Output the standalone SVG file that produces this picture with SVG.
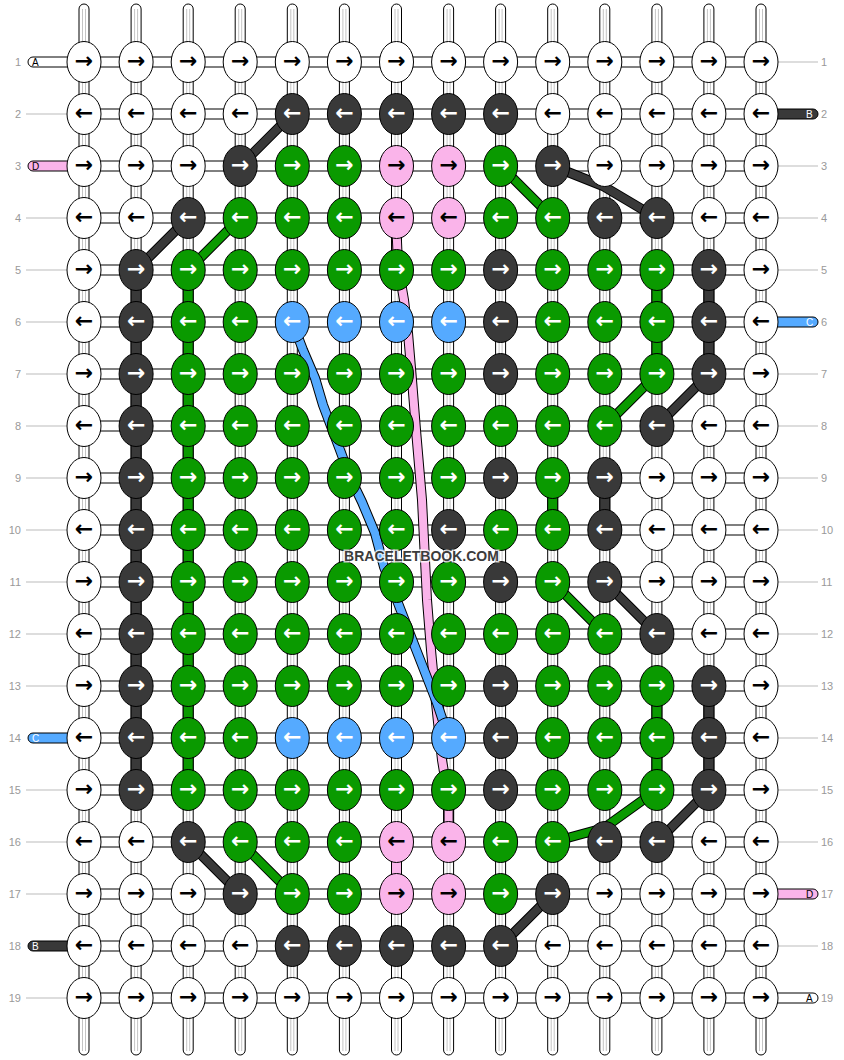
<svg xmlns="http://www.w3.org/2000/svg" width="844" height="1060" viewBox="0 0 844 1060">
<style>
.tube{fill:#fff;stroke:#000;stroke-width:1}
.inner{fill:none;stroke:#c4c4c4;stroke-width:1}
.band{fill:#fff;stroke:#000;stroke-width:1}
.num{font-family:"Liberation Sans",Arial,sans-serif;font-size:11px;fill:#999}
.numr{font-family:"Liberation Sans",Arial,sans-serif;font-size:11px;fill:#999}
.gl{stroke:#bbb;stroke-width:1}
.end{stroke:#000;stroke-width:1}
.lbl{font-family:"Liberation Sans",Arial,sans-serif;font-size:10px}
.k{stroke:#000;stroke-width:1}
.W{fill:#fff}.K{fill:#393939}.G{fill:#0a9a00}.P{fill:#fab4ea}.C{fill:#55aaff}
.a{font-family:"DejaVu Sans",sans-serif;font-size:22px;font-weight:bold;text-anchor:middle;transform:translateY(1.5px)}
.ab{fill:#000}.aw{fill:#fff}
.ol{fill:none;stroke:#000;stroke-width:10;stroke-linejoin:round;stroke-linecap:butt}
.ln{fill:none;stroke-width:8;stroke-linejoin:round;stroke-linecap:butt}
.sK{stroke:#393939}.sG{stroke:#0a9a00}.sP{stroke:#fab4ea}.sC{stroke:#55aaff}
.cc{stroke:#000;stroke-width:1}
.wm{font-family:"Liberation Sans",Arial,sans-serif;font-size:14px;font-weight:bold;fill:#3c3c3c;stroke:rgba(255,255,255,0.75);stroke-width:3px;paint-order:stroke;text-anchor:middle}
</style>
<g id="labels">
<text class="num" x="21" y="66" text-anchor="end">1</text><text class="num" x="21" y="118" text-anchor="end">2</text><text class="num" x="21" y="170" text-anchor="end">3</text><text class="num" x="21" y="222" text-anchor="end">4</text><text class="num" x="21" y="274" text-anchor="end">5</text><text class="num" x="21" y="326" text-anchor="end">6</text><text class="num" x="21" y="378" text-anchor="end">7</text><text class="num" x="21" y="430" text-anchor="end">8</text><text class="num" x="21" y="482" text-anchor="end">9</text><text class="num" x="21" y="534" text-anchor="end">10</text><text class="num" x="21" y="586" text-anchor="end">11</text><text class="num" x="21" y="638" text-anchor="end">12</text><text class="num" x="21" y="690" text-anchor="end">13</text><text class="num" x="21" y="742" text-anchor="end">14</text><text class="num" x="21" y="794" text-anchor="end">15</text><text class="num" x="21" y="846" text-anchor="end">16</text><text class="num" x="21" y="898" text-anchor="end">17</text><text class="num" x="21" y="950" text-anchor="end">18</text><text class="num" x="21" y="1002" text-anchor="end">19</text>
<text class="numr" x="821" y="66">1</text><text class="numr" x="821" y="118">2</text><text class="numr" x="821" y="170">3</text><text class="numr" x="821" y="222">4</text><text class="numr" x="821" y="274">5</text><text class="numr" x="821" y="326">6</text><text class="numr" x="821" y="378">7</text><text class="numr" x="821" y="430">8</text><text class="numr" x="821" y="482">9</text><text class="numr" x="821" y="534">10</text><text class="numr" x="821" y="586">11</text><text class="numr" x="821" y="638">12</text><text class="numr" x="821" y="690">13</text><text class="numr" x="821" y="742">14</text><text class="numr" x="821" y="794">15</text><text class="numr" x="821" y="846">16</text><text class="numr" x="821" y="898">17</text><text class="numr" x="821" y="950">18</text><text class="numr" x="821" y="1002">19</text>
</g>
<g id="connectors">
<g id="warps">
<rect class="tube" x="79" y="4" width="10" height="1051" rx="5"/><rect class="tube" x="131.1" y="4" width="10" height="1051" rx="5"/><rect class="tube" x="183.2" y="4" width="10" height="1051" rx="5"/><rect class="tube" x="235.2" y="4" width="10" height="1051" rx="5"/><rect class="tube" x="287.3" y="4" width="10" height="1051" rx="5"/><rect class="tube" x="339.4" y="4" width="10" height="1051" rx="5"/><rect class="tube" x="391.5" y="4" width="10" height="1051" rx="5"/><rect class="tube" x="443.6" y="4" width="10" height="1051" rx="5"/><rect class="tube" x="495.6" y="4" width="10" height="1051" rx="5"/><rect class="tube" x="547.7" y="4" width="10" height="1051" rx="5"/><rect class="tube" x="599.8" y="4" width="10" height="1051" rx="5"/><rect class="tube" x="651.9" y="4" width="10" height="1051" rx="5"/><rect class="tube" x="703.9" y="4" width="10" height="1051" rx="5"/><rect class="tube" x="756" y="4" width="10" height="1051" rx="5"/>
<path class="inner" d="M82.5,9V1051M85.5,9V1051M134.6,9V1051M137.6,9V1051M186.7,9V1051M189.7,9V1051M238.7,9V1051M241.7,9V1051M290.8,9V1051M293.8,9V1051M342.9,9V1051M345.9,9V1051M395,9V1051M398,9V1051M447.1,9V1051M450.1,9V1051M499.1,9V1051M502.1,9V1051M551.2,9V1051M554.2,9V1051M603.3,9V1051M606.3,9V1051M655.4,9V1051M658.4,9V1051M707.4,9V1051M710.4,9V1051M759.5,9V1051M762.5,9V1051"/>
</g>
<g id="rows">
<rect class="band" x="84" y="57" width="677" height="10"/><rect class="band" x="84" y="109" width="677" height="10"/><rect class="band" x="84" y="161" width="677" height="10"/><rect class="band" x="84" y="213" width="677" height="10"/><rect class="band" x="84" y="265" width="677" height="10"/><rect class="band" x="84" y="317" width="677" height="10"/><rect class="band" x="84" y="369" width="677" height="10"/><rect class="band" x="84" y="421" width="677" height="10"/><rect class="band" x="84" y="473" width="677" height="10"/><rect class="band" x="84" y="525" width="677" height="10"/><rect class="band" x="84" y="577" width="677" height="10"/><rect class="band" x="84" y="629" width="677" height="10"/><rect class="band" x="84" y="681" width="677" height="10"/><rect class="band" x="84" y="733" width="677" height="10"/><rect class="band" x="84" y="785" width="677" height="10"/><rect class="band" x="84" y="837" width="677" height="10"/><rect class="band" x="84" y="889" width="677" height="10"/><rect class="band" x="84" y="941" width="677" height="10"/><rect class="band" x="84" y="993" width="677" height="10"/>
</g>
<g id="guides">
<path class="gl" d="M26,114H67M26,218H67M26,270H67M26,322H67M26,374H67M26,426H67M26,478H67M26,530H67M26,582H67M26,634H67M26,686H67M26,790H67M26,842H67M26,894H67M26,998H67"/>
<path class="gl" d="M778,62H818M778,166H818M778,218H818M778,270H818M778,374H818M778,426H818M778,478H818M778,530H818M778,582H818M778,634H818M778,686H818M778,738H818M778,790H818M778,842H818M778,946H818"/>
</g>
<g id="strand-ends">
<rect class="end W" x="28" y="57" width="45" height="10" rx="5"/><text class="lbl" x="32" y="65.5" fill="#000">A</text>
<rect class="end P" x="28" y="161" width="45" height="10" rx="5"/><text class="lbl" x="32" y="169.5" fill="#000">D</text>
<rect class="end C" x="28" y="733" width="45" height="10" rx="5"/><text class="lbl" x="32" y="741.5" fill="#fff">C</text>
<rect class="end K" x="28" y="941" width="45" height="10" rx="5"/><text class="lbl" x="32" y="949.5" fill="#fff">B</text>
<rect class="end K" x="772" y="109" width="46" height="10" rx="5"/><text class="lbl" x="806" y="117.5" fill="#fff">B</text>
<rect class="end C" x="772" y="317" width="46" height="10" rx="5"/><text class="lbl" x="806" y="325.5" fill="#fff">C</text>
<rect class="end P" x="772" y="889" width="46" height="10" rx="5"/><text class="lbl" x="806" y="897.5" fill="#000">D</text>
<rect class="end W" x="772" y="993" width="46" height="10" rx="5"/><text class="lbl" x="806" y="1001.5" fill="#000">A</text>
</g>
<g id="colored-links">
<rect class="cc P" x="391.5" y="237" width="10" height="14"/>
<rect class="cc P" x="443.6" y="809" width="10" height="14"/>
<rect class="cc P" x="391.5" y="861" width="10" height="14"/>
<rect class="cc G" x="547.7" y="497" width="10" height="14"/>
<rect class="cc K" x="599.8" y="497" width="10" height="14"/>
<rect class="cc K" x="131.1" y="289" width="10" height="14"/><rect class="cc K" x="131.1" y="341" width="10" height="14"/><rect class="cc K" x="131.1" y="393" width="10" height="14"/><rect class="cc K" x="131.1" y="445" width="10" height="14"/><rect class="cc K" x="131.1" y="497" width="10" height="14"/><rect class="cc K" x="131.1" y="549" width="10" height="14"/><rect class="cc K" x="131.1" y="601" width="10" height="14"/><rect class="cc K" x="131.1" y="653" width="10" height="14"/><rect class="cc K" x="131.1" y="705" width="10" height="14"/><rect class="cc K" x="131.1" y="757" width="10" height="14"/>
<rect class="cc G" x="183.2" y="289" width="10" height="14"/><rect class="cc G" x="183.2" y="341" width="10" height="14"/><rect class="cc G" x="183.2" y="393" width="10" height="14"/><rect class="cc G" x="183.2" y="445" width="10" height="14"/><rect class="cc G" x="183.2" y="497" width="10" height="14"/><rect class="cc G" x="183.2" y="549" width="10" height="14"/><rect class="cc G" x="183.2" y="601" width="10" height="14"/><rect class="cc G" x="183.2" y="653" width="10" height="14"/><rect class="cc G" x="183.2" y="705" width="10" height="14"/><rect class="cc G" x="183.2" y="757" width="10" height="14"/>
<rect class="cc G" x="651.9" y="289" width="10" height="14"/><rect class="cc G" x="651.9" y="341" width="10" height="14"/><rect class="cc K" x="703.9" y="289" width="10" height="14"/><rect class="cc K" x="703.9" y="341" width="10" height="14"/>
<rect class="cc G" x="651.9" y="705" width="10" height="14"/><rect class="cc G" x="651.9" y="757" width="10" height="14"/><rect class="cc K" x="703.9" y="705" width="10" height="14"/><rect class="cc K" x="703.9" y="757" width="10" height="14"/>
</g>
<g id="threads">
<path class="ol" d="M292.3,114L240.2,166M188.2,218L136.1,270M240.2,218L188.2,270M500.6,166L552.7,218M552.7,166L603,186L656.9,218M656.9,374L604.8,426M708.9,374L656.9,426M552.7,582L604.8,634M604.8,582L656.9,634M552.7,842L604,828L656.9,790M656.9,842L708.9,790M188.2,842L240.2,894M240.2,842L292.3,894M500.6,946L552.7,894"/>
<path class="ln sK" d="M292.3,114L240.2,166M188.2,218L136.1,270M552.7,166L603,186L656.9,218M708.9,374L656.9,426M604.8,582L656.9,634M656.9,842L708.9,790M188.2,842L240.2,894M500.6,946L552.7,894"/>
<path class="ln sG" d="M240.2,218L188.2,270M500.6,166L552.7,218M656.9,374L604.8,426M552.7,582L604.8,634M552.7,842L604,828L656.9,790M240.2,842L292.3,894"/>
<path class="ol" d="M396.5,230L398,265L404,300L408,333L412,380L416,430L422,500L427,600L431,650L436,703L442,760L448.6,800L448.6,842"/>
<path class="ln sP" d="M396.5,230L398,265L404,300L408,333L412,380L416,430L422,500L427,600L431,650L436,703L442,760L448.6,800L448.6,842"/>
<path class="ol" d="M292.3,322L303,350L315,378L323,405L340,450L350,477L362,502L375,533L384,567L410,634L437,703L448.6,738"/>
<path class="ln sC" d="M292.3,322L303,350L315,378L323,405L340,450L350,477L362,502L375,533L384,567L410,634L437,703L448.6,738"/>
</g>
</g>
<g id="knots">
<g id="r1c1"><ellipse class="k W" cx="84" cy="62" rx="17" ry="20.5"/><text class="a ab" x="84" y="66">→</text></g>
<g id="r1c2"><ellipse class="k W" cx="136.1" cy="62" rx="17" ry="20.5"/><text class="a ab" x="136.1" y="66">→</text></g>
<g id="r1c3"><ellipse class="k W" cx="188.2" cy="62" rx="17" ry="20.5"/><text class="a ab" x="188.2" y="66">→</text></g>
<g id="r1c4"><ellipse class="k W" cx="240.2" cy="62" rx="17" ry="20.5"/><text class="a ab" x="240.2" y="66">→</text></g>
<g id="r1c5"><ellipse class="k W" cx="292.3" cy="62" rx="17" ry="20.5"/><text class="a ab" x="292.3" y="66">→</text></g>
<g id="r1c6"><ellipse class="k W" cx="344.4" cy="62" rx="17" ry="20.5"/><text class="a ab" x="344.4" y="66">→</text></g>
<g id="r1c7"><ellipse class="k W" cx="396.5" cy="62" rx="17" ry="20.5"/><text class="a ab" x="396.5" y="66">→</text></g>
<g id="r1c8"><ellipse class="k W" cx="448.6" cy="62" rx="17" ry="20.5"/><text class="a ab" x="448.6" y="66">→</text></g>
<g id="r1c9"><ellipse class="k W" cx="500.6" cy="62" rx="17" ry="20.5"/><text class="a ab" x="500.6" y="66">→</text></g>
<g id="r1c10"><ellipse class="k W" cx="552.7" cy="62" rx="17" ry="20.5"/><text class="a ab" x="552.7" y="66">→</text></g>
<g id="r1c11"><ellipse class="k W" cx="604.8" cy="62" rx="17" ry="20.5"/><text class="a ab" x="604.8" y="66">→</text></g>
<g id="r1c12"><ellipse class="k W" cx="656.9" cy="62" rx="17" ry="20.5"/><text class="a ab" x="656.9" y="66">→</text></g>
<g id="r1c13"><ellipse class="k W" cx="708.9" cy="62" rx="17" ry="20.5"/><text class="a ab" x="708.9" y="66">→</text></g>
<g id="r1c14"><ellipse class="k W" cx="761" cy="62" rx="17" ry="20.5"/><text class="a ab" x="761" y="66">→</text></g>
<g id="r2c1"><ellipse class="k W" cx="84" cy="114" rx="17" ry="20.5"/><text class="a ab" x="84" y="118">←</text></g>
<g id="r2c2"><ellipse class="k W" cx="136.1" cy="114" rx="17" ry="20.5"/><text class="a ab" x="136.1" y="118">←</text></g>
<g id="r2c3"><ellipse class="k W" cx="188.2" cy="114" rx="17" ry="20.5"/><text class="a ab" x="188.2" y="118">←</text></g>
<g id="r2c4"><ellipse class="k W" cx="240.2" cy="114" rx="17" ry="20.5"/><text class="a ab" x="240.2" y="118">←</text></g>
<g id="r2c5"><ellipse class="k K" cx="292.3" cy="114" rx="17" ry="20.5"/><text class="a aw" x="292.3" y="118">←</text></g>
<g id="r2c6"><ellipse class="k K" cx="344.4" cy="114" rx="17" ry="20.5"/><text class="a aw" x="344.4" y="118">←</text></g>
<g id="r2c7"><ellipse class="k K" cx="396.5" cy="114" rx="17" ry="20.5"/><text class="a aw" x="396.5" y="118">←</text></g>
<g id="r2c8"><ellipse class="k K" cx="448.6" cy="114" rx="17" ry="20.5"/><text class="a aw" x="448.6" y="118">←</text></g>
<g id="r2c9"><ellipse class="k K" cx="500.6" cy="114" rx="17" ry="20.5"/><text class="a aw" x="500.6" y="118">←</text></g>
<g id="r2c10"><ellipse class="k W" cx="552.7" cy="114" rx="17" ry="20.5"/><text class="a ab" x="552.7" y="118">←</text></g>
<g id="r2c11"><ellipse class="k W" cx="604.8" cy="114" rx="17" ry="20.5"/><text class="a ab" x="604.8" y="118">←</text></g>
<g id="r2c12"><ellipse class="k W" cx="656.9" cy="114" rx="17" ry="20.5"/><text class="a ab" x="656.9" y="118">←</text></g>
<g id="r2c13"><ellipse class="k W" cx="708.9" cy="114" rx="17" ry="20.5"/><text class="a ab" x="708.9" y="118">←</text></g>
<g id="r2c14"><ellipse class="k W" cx="761" cy="114" rx="17" ry="20.5"/><text class="a ab" x="761" y="118">←</text></g>
<g id="r3c1"><ellipse class="k W" cx="84" cy="166" rx="17" ry="20.5"/><text class="a ab" x="84" y="170">→</text></g>
<g id="r3c2"><ellipse class="k W" cx="136.1" cy="166" rx="17" ry="20.5"/><text class="a ab" x="136.1" y="170">→</text></g>
<g id="r3c3"><ellipse class="k W" cx="188.2" cy="166" rx="17" ry="20.5"/><text class="a ab" x="188.2" y="170">→</text></g>
<g id="r3c4"><ellipse class="k K" cx="240.2" cy="166" rx="17" ry="20.5"/><text class="a aw" x="240.2" y="170">→</text></g>
<g id="r3c5"><ellipse class="k G" cx="292.3" cy="166" rx="17" ry="20.5"/><text class="a aw" x="292.3" y="170">→</text></g>
<g id="r3c6"><ellipse class="k G" cx="344.4" cy="166" rx="17" ry="20.5"/><text class="a aw" x="344.4" y="170">→</text></g>
<g id="r3c7"><ellipse class="k P" cx="396.5" cy="166" rx="17" ry="20.5"/><text class="a ab" x="396.5" y="170">→</text></g>
<g id="r3c8"><ellipse class="k P" cx="448.6" cy="166" rx="17" ry="20.5"/><text class="a ab" x="448.6" y="170">→</text></g>
<g id="r3c9"><ellipse class="k G" cx="500.6" cy="166" rx="17" ry="20.5"/><text class="a aw" x="500.6" y="170">→</text></g>
<g id="r3c10"><ellipse class="k K" cx="552.7" cy="166" rx="17" ry="20.5"/><text class="a aw" x="552.7" y="170">→</text></g>
<g id="r3c11"><ellipse class="k W" cx="604.8" cy="166" rx="17" ry="20.5"/><text class="a ab" x="604.8" y="170">→</text></g>
<g id="r3c12"><ellipse class="k W" cx="656.9" cy="166" rx="17" ry="20.5"/><text class="a ab" x="656.9" y="170">→</text></g>
<g id="r3c13"><ellipse class="k W" cx="708.9" cy="166" rx="17" ry="20.5"/><text class="a ab" x="708.9" y="170">→</text></g>
<g id="r3c14"><ellipse class="k W" cx="761" cy="166" rx="17" ry="20.5"/><text class="a ab" x="761" y="170">→</text></g>
<g id="r4c1"><ellipse class="k W" cx="84" cy="218" rx="17" ry="20.5"/><text class="a ab" x="84" y="222">←</text></g>
<g id="r4c2"><ellipse class="k W" cx="136.1" cy="218" rx="17" ry="20.5"/><text class="a ab" x="136.1" y="222">←</text></g>
<g id="r4c3"><ellipse class="k K" cx="188.2" cy="218" rx="17" ry="20.5"/><text class="a aw" x="188.2" y="222">←</text></g>
<g id="r4c4"><ellipse class="k G" cx="240.2" cy="218" rx="17" ry="20.5"/><text class="a aw" x="240.2" y="222">←</text></g>
<g id="r4c5"><ellipse class="k G" cx="292.3" cy="218" rx="17" ry="20.5"/><text class="a aw" x="292.3" y="222">←</text></g>
<g id="r4c6"><ellipse class="k G" cx="344.4" cy="218" rx="17" ry="20.5"/><text class="a aw" x="344.4" y="222">←</text></g>
<g id="r4c7"><ellipse class="k P" cx="396.5" cy="218" rx="17" ry="20.5"/><text class="a ab" x="396.5" y="222">←</text></g>
<g id="r4c8"><ellipse class="k P" cx="448.6" cy="218" rx="17" ry="20.5"/><text class="a ab" x="448.6" y="222">←</text></g>
<g id="r4c9"><ellipse class="k G" cx="500.6" cy="218" rx="17" ry="20.5"/><text class="a aw" x="500.6" y="222">←</text></g>
<g id="r4c10"><ellipse class="k G" cx="552.7" cy="218" rx="17" ry="20.5"/><text class="a aw" x="552.7" y="222">←</text></g>
<g id="r4c11"><ellipse class="k K" cx="604.8" cy="218" rx="17" ry="20.5"/><text class="a aw" x="604.8" y="222">←</text></g>
<g id="r4c12"><ellipse class="k K" cx="656.9" cy="218" rx="17" ry="20.5"/><text class="a aw" x="656.9" y="222">←</text></g>
<g id="r4c13"><ellipse class="k W" cx="708.9" cy="218" rx="17" ry="20.5"/><text class="a ab" x="708.9" y="222">←</text></g>
<g id="r4c14"><ellipse class="k W" cx="761" cy="218" rx="17" ry="20.5"/><text class="a ab" x="761" y="222">←</text></g>
<g id="r5c1"><ellipse class="k W" cx="84" cy="270" rx="17" ry="20.5"/><text class="a ab" x="84" y="274">→</text></g>
<g id="r5c2"><ellipse class="k K" cx="136.1" cy="270" rx="17" ry="20.5"/><text class="a aw" x="136.1" y="274">→</text></g>
<g id="r5c3"><ellipse class="k G" cx="188.2" cy="270" rx="17" ry="20.5"/><text class="a aw" x="188.2" y="274">→</text></g>
<g id="r5c4"><ellipse class="k G" cx="240.2" cy="270" rx="17" ry="20.5"/><text class="a aw" x="240.2" y="274">→</text></g>
<g id="r5c5"><ellipse class="k G" cx="292.3" cy="270" rx="17" ry="20.5"/><text class="a aw" x="292.3" y="274">→</text></g>
<g id="r5c6"><ellipse class="k G" cx="344.4" cy="270" rx="17" ry="20.5"/><text class="a aw" x="344.4" y="274">→</text></g>
<g id="r5c7"><ellipse class="k G" cx="396.5" cy="270" rx="17" ry="20.5"/><text class="a aw" x="396.5" y="274">→</text></g>
<g id="r5c8"><ellipse class="k G" cx="448.6" cy="270" rx="17" ry="20.5"/><text class="a aw" x="448.6" y="274">→</text></g>
<g id="r5c9"><ellipse class="k K" cx="500.6" cy="270" rx="17" ry="20.5"/><text class="a aw" x="500.6" y="274">→</text></g>
<g id="r5c10"><ellipse class="k G" cx="552.7" cy="270" rx="17" ry="20.5"/><text class="a aw" x="552.7" y="274">→</text></g>
<g id="r5c11"><ellipse class="k G" cx="604.8" cy="270" rx="17" ry="20.5"/><text class="a aw" x="604.8" y="274">→</text></g>
<g id="r5c12"><ellipse class="k G" cx="656.9" cy="270" rx="17" ry="20.5"/><text class="a aw" x="656.9" y="274">→</text></g>
<g id="r5c13"><ellipse class="k K" cx="708.9" cy="270" rx="17" ry="20.5"/><text class="a aw" x="708.9" y="274">→</text></g>
<g id="r5c14"><ellipse class="k W" cx="761" cy="270" rx="17" ry="20.5"/><text class="a ab" x="761" y="274">→</text></g>
<g id="r6c1"><ellipse class="k W" cx="84" cy="322" rx="17" ry="20.5"/><text class="a ab" x="84" y="326">←</text></g>
<g id="r6c2"><ellipse class="k K" cx="136.1" cy="322" rx="17" ry="20.5"/><text class="a aw" x="136.1" y="326">←</text></g>
<g id="r6c3"><ellipse class="k G" cx="188.2" cy="322" rx="17" ry="20.5"/><text class="a aw" x="188.2" y="326">←</text></g>
<g id="r6c4"><ellipse class="k G" cx="240.2" cy="322" rx="17" ry="20.5"/><text class="a aw" x="240.2" y="326">←</text></g>
<g id="r6c5"><ellipse class="k C" cx="292.3" cy="322" rx="17" ry="20.5"/><text class="a aw" x="292.3" y="326">←</text></g>
<g id="r6c6"><ellipse class="k C" cx="344.4" cy="322" rx="17" ry="20.5"/><text class="a aw" x="344.4" y="326">←</text></g>
<g id="r6c7"><ellipse class="k C" cx="396.5" cy="322" rx="17" ry="20.5"/><text class="a aw" x="396.5" y="326">←</text></g>
<g id="r6c8"><ellipse class="k C" cx="448.6" cy="322" rx="17" ry="20.5"/><text class="a aw" x="448.6" y="326">←</text></g>
<g id="r6c9"><ellipse class="k K" cx="500.6" cy="322" rx="17" ry="20.5"/><text class="a aw" x="500.6" y="326">←</text></g>
<g id="r6c10"><ellipse class="k G" cx="552.7" cy="322" rx="17" ry="20.5"/><text class="a aw" x="552.7" y="326">←</text></g>
<g id="r6c11"><ellipse class="k G" cx="604.8" cy="322" rx="17" ry="20.5"/><text class="a aw" x="604.8" y="326">←</text></g>
<g id="r6c12"><ellipse class="k G" cx="656.9" cy="322" rx="17" ry="20.5"/><text class="a aw" x="656.9" y="326">←</text></g>
<g id="r6c13"><ellipse class="k K" cx="708.9" cy="322" rx="17" ry="20.5"/><text class="a aw" x="708.9" y="326">←</text></g>
<g id="r6c14"><ellipse class="k W" cx="761" cy="322" rx="17" ry="20.5"/><text class="a ab" x="761" y="326">←</text></g>
<g id="r7c1"><ellipse class="k W" cx="84" cy="374" rx="17" ry="20.5"/><text class="a ab" x="84" y="378">→</text></g>
<g id="r7c2"><ellipse class="k K" cx="136.1" cy="374" rx="17" ry="20.5"/><text class="a aw" x="136.1" y="378">→</text></g>
<g id="r7c3"><ellipse class="k G" cx="188.2" cy="374" rx="17" ry="20.5"/><text class="a aw" x="188.2" y="378">→</text></g>
<g id="r7c4"><ellipse class="k G" cx="240.2" cy="374" rx="17" ry="20.5"/><text class="a aw" x="240.2" y="378">→</text></g>
<g id="r7c5"><ellipse class="k G" cx="292.3" cy="374" rx="17" ry="20.5"/><text class="a aw" x="292.3" y="378">→</text></g>
<g id="r7c6"><ellipse class="k G" cx="344.4" cy="374" rx="17" ry="20.5"/><text class="a aw" x="344.4" y="378">→</text></g>
<g id="r7c7"><ellipse class="k G" cx="396.5" cy="374" rx="17" ry="20.5"/><text class="a aw" x="396.5" y="378">→</text></g>
<g id="r7c8"><ellipse class="k G" cx="448.6" cy="374" rx="17" ry="20.5"/><text class="a aw" x="448.6" y="378">→</text></g>
<g id="r7c9"><ellipse class="k K" cx="500.6" cy="374" rx="17" ry="20.5"/><text class="a aw" x="500.6" y="378">→</text></g>
<g id="r7c10"><ellipse class="k G" cx="552.7" cy="374" rx="17" ry="20.5"/><text class="a aw" x="552.7" y="378">→</text></g>
<g id="r7c11"><ellipse class="k G" cx="604.8" cy="374" rx="17" ry="20.5"/><text class="a aw" x="604.8" y="378">→</text></g>
<g id="r7c12"><ellipse class="k G" cx="656.9" cy="374" rx="17" ry="20.5"/><text class="a aw" x="656.9" y="378">→</text></g>
<g id="r7c13"><ellipse class="k K" cx="708.9" cy="374" rx="17" ry="20.5"/><text class="a aw" x="708.9" y="378">→</text></g>
<g id="r7c14"><ellipse class="k W" cx="761" cy="374" rx="17" ry="20.5"/><text class="a ab" x="761" y="378">→</text></g>
<g id="r8c1"><ellipse class="k W" cx="84" cy="426" rx="17" ry="20.5"/><text class="a ab" x="84" y="430">←</text></g>
<g id="r8c2"><ellipse class="k K" cx="136.1" cy="426" rx="17" ry="20.5"/><text class="a aw" x="136.1" y="430">←</text></g>
<g id="r8c3"><ellipse class="k G" cx="188.2" cy="426" rx="17" ry="20.5"/><text class="a aw" x="188.2" y="430">←</text></g>
<g id="r8c4"><ellipse class="k G" cx="240.2" cy="426" rx="17" ry="20.5"/><text class="a aw" x="240.2" y="430">←</text></g>
<g id="r8c5"><ellipse class="k G" cx="292.3" cy="426" rx="17" ry="20.5"/><text class="a aw" x="292.3" y="430">←</text></g>
<g id="r8c6"><ellipse class="k G" cx="344.4" cy="426" rx="17" ry="20.5"/><text class="a aw" x="344.4" y="430">←</text></g>
<g id="r8c7"><ellipse class="k G" cx="396.5" cy="426" rx="17" ry="20.5"/><text class="a aw" x="396.5" y="430">←</text></g>
<g id="r8c8"><ellipse class="k G" cx="448.6" cy="426" rx="17" ry="20.5"/><text class="a aw" x="448.6" y="430">←</text></g>
<g id="r8c9"><ellipse class="k G" cx="500.6" cy="426" rx="17" ry="20.5"/><text class="a aw" x="500.6" y="430">←</text></g>
<g id="r8c10"><ellipse class="k G" cx="552.7" cy="426" rx="17" ry="20.5"/><text class="a aw" x="552.7" y="430">←</text></g>
<g id="r8c11"><ellipse class="k G" cx="604.8" cy="426" rx="17" ry="20.5"/><text class="a aw" x="604.8" y="430">←</text></g>
<g id="r8c12"><ellipse class="k K" cx="656.9" cy="426" rx="17" ry="20.5"/><text class="a aw" x="656.9" y="430">←</text></g>
<g id="r8c13"><ellipse class="k W" cx="708.9" cy="426" rx="17" ry="20.5"/><text class="a ab" x="708.9" y="430">←</text></g>
<g id="r8c14"><ellipse class="k W" cx="761" cy="426" rx="17" ry="20.5"/><text class="a ab" x="761" y="430">←</text></g>
<g id="r9c1"><ellipse class="k W" cx="84" cy="478" rx="17" ry="20.5"/><text class="a ab" x="84" y="482">→</text></g>
<g id="r9c2"><ellipse class="k K" cx="136.1" cy="478" rx="17" ry="20.5"/><text class="a aw" x="136.1" y="482">→</text></g>
<g id="r9c3"><ellipse class="k G" cx="188.2" cy="478" rx="17" ry="20.5"/><text class="a aw" x="188.2" y="482">→</text></g>
<g id="r9c4"><ellipse class="k G" cx="240.2" cy="478" rx="17" ry="20.5"/><text class="a aw" x="240.2" y="482">→</text></g>
<g id="r9c5"><ellipse class="k G" cx="292.3" cy="478" rx="17" ry="20.5"/><text class="a aw" x="292.3" y="482">→</text></g>
<g id="r9c6"><ellipse class="k G" cx="344.4" cy="478" rx="17" ry="20.5"/><text class="a aw" x="344.4" y="482">→</text></g>
<g id="r9c7"><ellipse class="k G" cx="396.5" cy="478" rx="17" ry="20.5"/><text class="a aw" x="396.5" y="482">→</text></g>
<g id="r9c8"><ellipse class="k G" cx="448.6" cy="478" rx="17" ry="20.5"/><text class="a aw" x="448.6" y="482">→</text></g>
<g id="r9c9"><ellipse class="k K" cx="500.6" cy="478" rx="17" ry="20.5"/><text class="a aw" x="500.6" y="482">→</text></g>
<g id="r9c10"><ellipse class="k G" cx="552.7" cy="478" rx="17" ry="20.5"/><text class="a aw" x="552.7" y="482">→</text></g>
<g id="r9c11"><ellipse class="k K" cx="604.8" cy="478" rx="17" ry="20.5"/><text class="a aw" x="604.8" y="482">→</text></g>
<g id="r9c12"><ellipse class="k W" cx="656.9" cy="478" rx="17" ry="20.5"/><text class="a ab" x="656.9" y="482">→</text></g>
<g id="r9c13"><ellipse class="k W" cx="708.9" cy="478" rx="17" ry="20.5"/><text class="a ab" x="708.9" y="482">→</text></g>
<g id="r9c14"><ellipse class="k W" cx="761" cy="478" rx="17" ry="20.5"/><text class="a ab" x="761" y="482">→</text></g>
<g id="r10c1"><ellipse class="k W" cx="84" cy="530" rx="17" ry="20.5"/><text class="a ab" x="84" y="534">←</text></g>
<g id="r10c2"><ellipse class="k K" cx="136.1" cy="530" rx="17" ry="20.5"/><text class="a aw" x="136.1" y="534">←</text></g>
<g id="r10c3"><ellipse class="k G" cx="188.2" cy="530" rx="17" ry="20.5"/><text class="a aw" x="188.2" y="534">←</text></g>
<g id="r10c4"><ellipse class="k G" cx="240.2" cy="530" rx="17" ry="20.5"/><text class="a aw" x="240.2" y="534">←</text></g>
<g id="r10c5"><ellipse class="k G" cx="292.3" cy="530" rx="17" ry="20.5"/><text class="a aw" x="292.3" y="534">←</text></g>
<g id="r10c6"><ellipse class="k G" cx="344.4" cy="530" rx="17" ry="20.5"/><text class="a aw" x="344.4" y="534">←</text></g>
<g id="r10c7"><ellipse class="k G" cx="396.5" cy="530" rx="17" ry="20.5"/><text class="a aw" x="396.5" y="534">←</text></g>
<g id="r10c8"><ellipse class="k K" cx="448.6" cy="530" rx="17" ry="20.5"/><text class="a aw" x="448.6" y="534">←</text></g>
<g id="r10c9"><ellipse class="k G" cx="500.6" cy="530" rx="17" ry="20.5"/><text class="a aw" x="500.6" y="534">←</text></g>
<g id="r10c10"><ellipse class="k G" cx="552.7" cy="530" rx="17" ry="20.5"/><text class="a aw" x="552.7" y="534">←</text></g>
<g id="r10c11"><ellipse class="k K" cx="604.8" cy="530" rx="17" ry="20.5"/><text class="a aw" x="604.8" y="534">←</text></g>
<g id="r10c12"><ellipse class="k W" cx="656.9" cy="530" rx="17" ry="20.5"/><text class="a ab" x="656.9" y="534">←</text></g>
<g id="r10c13"><ellipse class="k W" cx="708.9" cy="530" rx="17" ry="20.5"/><text class="a ab" x="708.9" y="534">←</text></g>
<g id="r10c14"><ellipse class="k W" cx="761" cy="530" rx="17" ry="20.5"/><text class="a ab" x="761" y="534">←</text></g>
<g id="r11c1"><ellipse class="k W" cx="84" cy="582" rx="17" ry="20.5"/><text class="a ab" x="84" y="586">→</text></g>
<g id="r11c2"><ellipse class="k K" cx="136.1" cy="582" rx="17" ry="20.5"/><text class="a aw" x="136.1" y="586">→</text></g>
<g id="r11c3"><ellipse class="k G" cx="188.2" cy="582" rx="17" ry="20.5"/><text class="a aw" x="188.2" y="586">→</text></g>
<g id="r11c4"><ellipse class="k G" cx="240.2" cy="582" rx="17" ry="20.5"/><text class="a aw" x="240.2" y="586">→</text></g>
<g id="r11c5"><ellipse class="k G" cx="292.3" cy="582" rx="17" ry="20.5"/><text class="a aw" x="292.3" y="586">→</text></g>
<g id="r11c6"><ellipse class="k G" cx="344.4" cy="582" rx="17" ry="20.5"/><text class="a aw" x="344.4" y="586">→</text></g>
<g id="r11c7"><ellipse class="k G" cx="396.5" cy="582" rx="17" ry="20.5"/><text class="a aw" x="396.5" y="586">→</text></g>
<g id="r11c8"><ellipse class="k G" cx="448.6" cy="582" rx="17" ry="20.5"/><text class="a aw" x="448.6" y="586">→</text></g>
<g id="r11c9"><ellipse class="k K" cx="500.6" cy="582" rx="17" ry="20.5"/><text class="a aw" x="500.6" y="586">→</text></g>
<g id="r11c10"><ellipse class="k G" cx="552.7" cy="582" rx="17" ry="20.5"/><text class="a aw" x="552.7" y="586">→</text></g>
<g id="r11c11"><ellipse class="k K" cx="604.8" cy="582" rx="17" ry="20.5"/><text class="a aw" x="604.8" y="586">→</text></g>
<g id="r11c12"><ellipse class="k W" cx="656.9" cy="582" rx="17" ry="20.5"/><text class="a ab" x="656.9" y="586">→</text></g>
<g id="r11c13"><ellipse class="k W" cx="708.9" cy="582" rx="17" ry="20.5"/><text class="a ab" x="708.9" y="586">→</text></g>
<g id="r11c14"><ellipse class="k W" cx="761" cy="582" rx="17" ry="20.5"/><text class="a ab" x="761" y="586">→</text></g>
<g id="r12c1"><ellipse class="k W" cx="84" cy="634" rx="17" ry="20.5"/><text class="a ab" x="84" y="638">←</text></g>
<g id="r12c2"><ellipse class="k K" cx="136.1" cy="634" rx="17" ry="20.5"/><text class="a aw" x="136.1" y="638">←</text></g>
<g id="r12c3"><ellipse class="k G" cx="188.2" cy="634" rx="17" ry="20.5"/><text class="a aw" x="188.2" y="638">←</text></g>
<g id="r12c4"><ellipse class="k G" cx="240.2" cy="634" rx="17" ry="20.5"/><text class="a aw" x="240.2" y="638">←</text></g>
<g id="r12c5"><ellipse class="k G" cx="292.3" cy="634" rx="17" ry="20.5"/><text class="a aw" x="292.3" y="638">←</text></g>
<g id="r12c6"><ellipse class="k G" cx="344.4" cy="634" rx="17" ry="20.5"/><text class="a aw" x="344.4" y="638">←</text></g>
<g id="r12c7"><ellipse class="k G" cx="396.5" cy="634" rx="17" ry="20.5"/><text class="a aw" x="396.5" y="638">←</text></g>
<g id="r12c8"><ellipse class="k G" cx="448.6" cy="634" rx="17" ry="20.5"/><text class="a aw" x="448.6" y="638">←</text></g>
<g id="r12c9"><ellipse class="k G" cx="500.6" cy="634" rx="17" ry="20.5"/><text class="a aw" x="500.6" y="638">←</text></g>
<g id="r12c10"><ellipse class="k G" cx="552.7" cy="634" rx="17" ry="20.5"/><text class="a aw" x="552.7" y="638">←</text></g>
<g id="r12c11"><ellipse class="k G" cx="604.8" cy="634" rx="17" ry="20.5"/><text class="a aw" x="604.8" y="638">←</text></g>
<g id="r12c12"><ellipse class="k K" cx="656.9" cy="634" rx="17" ry="20.5"/><text class="a aw" x="656.9" y="638">←</text></g>
<g id="r12c13"><ellipse class="k W" cx="708.9" cy="634" rx="17" ry="20.5"/><text class="a ab" x="708.9" y="638">←</text></g>
<g id="r12c14"><ellipse class="k W" cx="761" cy="634" rx="17" ry="20.5"/><text class="a ab" x="761" y="638">←</text></g>
<g id="r13c1"><ellipse class="k W" cx="84" cy="686" rx="17" ry="20.5"/><text class="a ab" x="84" y="690">→</text></g>
<g id="r13c2"><ellipse class="k K" cx="136.1" cy="686" rx="17" ry="20.5"/><text class="a aw" x="136.1" y="690">→</text></g>
<g id="r13c3"><ellipse class="k G" cx="188.2" cy="686" rx="17" ry="20.5"/><text class="a aw" x="188.2" y="690">→</text></g>
<g id="r13c4"><ellipse class="k G" cx="240.2" cy="686" rx="17" ry="20.5"/><text class="a aw" x="240.2" y="690">→</text></g>
<g id="r13c5"><ellipse class="k G" cx="292.3" cy="686" rx="17" ry="20.5"/><text class="a aw" x="292.3" y="690">→</text></g>
<g id="r13c6"><ellipse class="k G" cx="344.4" cy="686" rx="17" ry="20.5"/><text class="a aw" x="344.4" y="690">→</text></g>
<g id="r13c7"><ellipse class="k G" cx="396.5" cy="686" rx="17" ry="20.5"/><text class="a aw" x="396.5" y="690">→</text></g>
<g id="r13c8"><ellipse class="k G" cx="448.6" cy="686" rx="17" ry="20.5"/><text class="a aw" x="448.6" y="690">→</text></g>
<g id="r13c9"><ellipse class="k K" cx="500.6" cy="686" rx="17" ry="20.5"/><text class="a aw" x="500.6" y="690">→</text></g>
<g id="r13c10"><ellipse class="k G" cx="552.7" cy="686" rx="17" ry="20.5"/><text class="a aw" x="552.7" y="690">→</text></g>
<g id="r13c11"><ellipse class="k G" cx="604.8" cy="686" rx="17" ry="20.5"/><text class="a aw" x="604.8" y="690">→</text></g>
<g id="r13c12"><ellipse class="k G" cx="656.9" cy="686" rx="17" ry="20.5"/><text class="a aw" x="656.9" y="690">→</text></g>
<g id="r13c13"><ellipse class="k K" cx="708.9" cy="686" rx="17" ry="20.5"/><text class="a aw" x="708.9" y="690">→</text></g>
<g id="r13c14"><ellipse class="k W" cx="761" cy="686" rx="17" ry="20.5"/><text class="a ab" x="761" y="690">→</text></g>
<g id="r14c1"><ellipse class="k W" cx="84" cy="738" rx="17" ry="20.5"/><text class="a ab" x="84" y="742">←</text></g>
<g id="r14c2"><ellipse class="k K" cx="136.1" cy="738" rx="17" ry="20.5"/><text class="a aw" x="136.1" y="742">←</text></g>
<g id="r14c3"><ellipse class="k G" cx="188.2" cy="738" rx="17" ry="20.5"/><text class="a aw" x="188.2" y="742">←</text></g>
<g id="r14c4"><ellipse class="k G" cx="240.2" cy="738" rx="17" ry="20.5"/><text class="a aw" x="240.2" y="742">←</text></g>
<g id="r14c5"><ellipse class="k C" cx="292.3" cy="738" rx="17" ry="20.5"/><text class="a aw" x="292.3" y="742">←</text></g>
<g id="r14c6"><ellipse class="k C" cx="344.4" cy="738" rx="17" ry="20.5"/><text class="a aw" x="344.4" y="742">←</text></g>
<g id="r14c7"><ellipse class="k C" cx="396.5" cy="738" rx="17" ry="20.5"/><text class="a aw" x="396.5" y="742">←</text></g>
<g id="r14c8"><ellipse class="k C" cx="448.6" cy="738" rx="17" ry="20.5"/><text class="a aw" x="448.6" y="742">←</text></g>
<g id="r14c9"><ellipse class="k K" cx="500.6" cy="738" rx="17" ry="20.5"/><text class="a aw" x="500.6" y="742">←</text></g>
<g id="r14c10"><ellipse class="k G" cx="552.7" cy="738" rx="17" ry="20.5"/><text class="a aw" x="552.7" y="742">←</text></g>
<g id="r14c11"><ellipse class="k G" cx="604.8" cy="738" rx="17" ry="20.5"/><text class="a aw" x="604.8" y="742">←</text></g>
<g id="r14c12"><ellipse class="k G" cx="656.9" cy="738" rx="17" ry="20.5"/><text class="a aw" x="656.9" y="742">←</text></g>
<g id="r14c13"><ellipse class="k K" cx="708.9" cy="738" rx="17" ry="20.5"/><text class="a aw" x="708.9" y="742">←</text></g>
<g id="r14c14"><ellipse class="k W" cx="761" cy="738" rx="17" ry="20.5"/><text class="a ab" x="761" y="742">←</text></g>
<g id="r15c1"><ellipse class="k W" cx="84" cy="790" rx="17" ry="20.5"/><text class="a ab" x="84" y="794">→</text></g>
<g id="r15c2"><ellipse class="k K" cx="136.1" cy="790" rx="17" ry="20.5"/><text class="a aw" x="136.1" y="794">→</text></g>
<g id="r15c3"><ellipse class="k G" cx="188.2" cy="790" rx="17" ry="20.5"/><text class="a aw" x="188.2" y="794">→</text></g>
<g id="r15c4"><ellipse class="k G" cx="240.2" cy="790" rx="17" ry="20.5"/><text class="a aw" x="240.2" y="794">→</text></g>
<g id="r15c5"><ellipse class="k G" cx="292.3" cy="790" rx="17" ry="20.5"/><text class="a aw" x="292.3" y="794">→</text></g>
<g id="r15c6"><ellipse class="k G" cx="344.4" cy="790" rx="17" ry="20.5"/><text class="a aw" x="344.4" y="794">→</text></g>
<g id="r15c7"><ellipse class="k G" cx="396.5" cy="790" rx="17" ry="20.5"/><text class="a aw" x="396.5" y="794">→</text></g>
<g id="r15c8"><ellipse class="k G" cx="448.6" cy="790" rx="17" ry="20.5"/><text class="a aw" x="448.6" y="794">→</text></g>
<g id="r15c9"><ellipse class="k K" cx="500.6" cy="790" rx="17" ry="20.5"/><text class="a aw" x="500.6" y="794">→</text></g>
<g id="r15c10"><ellipse class="k G" cx="552.7" cy="790" rx="17" ry="20.5"/><text class="a aw" x="552.7" y="794">→</text></g>
<g id="r15c11"><ellipse class="k G" cx="604.8" cy="790" rx="17" ry="20.5"/><text class="a aw" x="604.8" y="794">→</text></g>
<g id="r15c12"><ellipse class="k G" cx="656.9" cy="790" rx="17" ry="20.5"/><text class="a aw" x="656.9" y="794">→</text></g>
<g id="r15c13"><ellipse class="k K" cx="708.9" cy="790" rx="17" ry="20.5"/><text class="a aw" x="708.9" y="794">→</text></g>
<g id="r15c14"><ellipse class="k W" cx="761" cy="790" rx="17" ry="20.5"/><text class="a ab" x="761" y="794">→</text></g>
<g id="r16c1"><ellipse class="k W" cx="84" cy="842" rx="17" ry="20.5"/><text class="a ab" x="84" y="846">←</text></g>
<g id="r16c2"><ellipse class="k W" cx="136.1" cy="842" rx="17" ry="20.5"/><text class="a ab" x="136.1" y="846">←</text></g>
<g id="r16c3"><ellipse class="k K" cx="188.2" cy="842" rx="17" ry="20.5"/><text class="a aw" x="188.2" y="846">←</text></g>
<g id="r16c4"><ellipse class="k G" cx="240.2" cy="842" rx="17" ry="20.5"/><text class="a aw" x="240.2" y="846">←</text></g>
<g id="r16c5"><ellipse class="k G" cx="292.3" cy="842" rx="17" ry="20.5"/><text class="a aw" x="292.3" y="846">←</text></g>
<g id="r16c6"><ellipse class="k G" cx="344.4" cy="842" rx="17" ry="20.5"/><text class="a aw" x="344.4" y="846">←</text></g>
<g id="r16c7"><ellipse class="k P" cx="396.5" cy="842" rx="17" ry="20.5"/><text class="a ab" x="396.5" y="846">←</text></g>
<g id="r16c8"><ellipse class="k P" cx="448.6" cy="842" rx="17" ry="20.5"/><text class="a ab" x="448.6" y="846">←</text></g>
<g id="r16c9"><ellipse class="k G" cx="500.6" cy="842" rx="17" ry="20.5"/><text class="a aw" x="500.6" y="846">←</text></g>
<g id="r16c10"><ellipse class="k G" cx="552.7" cy="842" rx="17" ry="20.5"/><text class="a aw" x="552.7" y="846">←</text></g>
<g id="r16c11"><ellipse class="k K" cx="604.8" cy="842" rx="17" ry="20.5"/><text class="a aw" x="604.8" y="846">←</text></g>
<g id="r16c12"><ellipse class="k K" cx="656.9" cy="842" rx="17" ry="20.5"/><text class="a aw" x="656.9" y="846">←</text></g>
<g id="r16c13"><ellipse class="k W" cx="708.9" cy="842" rx="17" ry="20.5"/><text class="a ab" x="708.9" y="846">←</text></g>
<g id="r16c14"><ellipse class="k W" cx="761" cy="842" rx="17" ry="20.5"/><text class="a ab" x="761" y="846">←</text></g>
<g id="r17c1"><ellipse class="k W" cx="84" cy="894" rx="17" ry="20.5"/><text class="a ab" x="84" y="898">→</text></g>
<g id="r17c2"><ellipse class="k W" cx="136.1" cy="894" rx="17" ry="20.5"/><text class="a ab" x="136.1" y="898">→</text></g>
<g id="r17c3"><ellipse class="k W" cx="188.2" cy="894" rx="17" ry="20.5"/><text class="a ab" x="188.2" y="898">→</text></g>
<g id="r17c4"><ellipse class="k K" cx="240.2" cy="894" rx="17" ry="20.5"/><text class="a aw" x="240.2" y="898">→</text></g>
<g id="r17c5"><ellipse class="k G" cx="292.3" cy="894" rx="17" ry="20.5"/><text class="a aw" x="292.3" y="898">→</text></g>
<g id="r17c6"><ellipse class="k G" cx="344.4" cy="894" rx="17" ry="20.5"/><text class="a aw" x="344.4" y="898">→</text></g>
<g id="r17c7"><ellipse class="k P" cx="396.5" cy="894" rx="17" ry="20.5"/><text class="a ab" x="396.5" y="898">→</text></g>
<g id="r17c8"><ellipse class="k P" cx="448.6" cy="894" rx="17" ry="20.5"/><text class="a ab" x="448.6" y="898">→</text></g>
<g id="r17c9"><ellipse class="k G" cx="500.6" cy="894" rx="17" ry="20.5"/><text class="a aw" x="500.6" y="898">→</text></g>
<g id="r17c10"><ellipse class="k K" cx="552.7" cy="894" rx="17" ry="20.5"/><text class="a aw" x="552.7" y="898">→</text></g>
<g id="r17c11"><ellipse class="k W" cx="604.8" cy="894" rx="17" ry="20.5"/><text class="a ab" x="604.8" y="898">→</text></g>
<g id="r17c12"><ellipse class="k W" cx="656.9" cy="894" rx="17" ry="20.5"/><text class="a ab" x="656.9" y="898">→</text></g>
<g id="r17c13"><ellipse class="k W" cx="708.9" cy="894" rx="17" ry="20.5"/><text class="a ab" x="708.9" y="898">→</text></g>
<g id="r17c14"><ellipse class="k W" cx="761" cy="894" rx="17" ry="20.5"/><text class="a ab" x="761" y="898">→</text></g>
<g id="r18c1"><ellipse class="k W" cx="84" cy="946" rx="17" ry="20.5"/><text class="a ab" x="84" y="950">←</text></g>
<g id="r18c2"><ellipse class="k W" cx="136.1" cy="946" rx="17" ry="20.5"/><text class="a ab" x="136.1" y="950">←</text></g>
<g id="r18c3"><ellipse class="k W" cx="188.2" cy="946" rx="17" ry="20.5"/><text class="a ab" x="188.2" y="950">←</text></g>
<g id="r18c4"><ellipse class="k W" cx="240.2" cy="946" rx="17" ry="20.5"/><text class="a ab" x="240.2" y="950">←</text></g>
<g id="r18c5"><ellipse class="k K" cx="292.3" cy="946" rx="17" ry="20.5"/><text class="a aw" x="292.3" y="950">←</text></g>
<g id="r18c6"><ellipse class="k K" cx="344.4" cy="946" rx="17" ry="20.5"/><text class="a aw" x="344.4" y="950">←</text></g>
<g id="r18c7"><ellipse class="k K" cx="396.5" cy="946" rx="17" ry="20.5"/><text class="a aw" x="396.5" y="950">←</text></g>
<g id="r18c8"><ellipse class="k K" cx="448.6" cy="946" rx="17" ry="20.5"/><text class="a aw" x="448.6" y="950">←</text></g>
<g id="r18c9"><ellipse class="k K" cx="500.6" cy="946" rx="17" ry="20.5"/><text class="a aw" x="500.6" y="950">←</text></g>
<g id="r18c10"><ellipse class="k W" cx="552.7" cy="946" rx="17" ry="20.5"/><text class="a ab" x="552.7" y="950">←</text></g>
<g id="r18c11"><ellipse class="k W" cx="604.8" cy="946" rx="17" ry="20.5"/><text class="a ab" x="604.8" y="950">←</text></g>
<g id="r18c12"><ellipse class="k W" cx="656.9" cy="946" rx="17" ry="20.5"/><text class="a ab" x="656.9" y="950">←</text></g>
<g id="r18c13"><ellipse class="k W" cx="708.9" cy="946" rx="17" ry="20.5"/><text class="a ab" x="708.9" y="950">←</text></g>
<g id="r18c14"><ellipse class="k W" cx="761" cy="946" rx="17" ry="20.5"/><text class="a ab" x="761" y="950">←</text></g>
<g id="r19c1"><ellipse class="k W" cx="84" cy="998" rx="17" ry="20.5"/><text class="a ab" x="84" y="1002">→</text></g>
<g id="r19c2"><ellipse class="k W" cx="136.1" cy="998" rx="17" ry="20.5"/><text class="a ab" x="136.1" y="1002">→</text></g>
<g id="r19c3"><ellipse class="k W" cx="188.2" cy="998" rx="17" ry="20.5"/><text class="a ab" x="188.2" y="1002">→</text></g>
<g id="r19c4"><ellipse class="k W" cx="240.2" cy="998" rx="17" ry="20.5"/><text class="a ab" x="240.2" y="1002">→</text></g>
<g id="r19c5"><ellipse class="k W" cx="292.3" cy="998" rx="17" ry="20.5"/><text class="a ab" x="292.3" y="1002">→</text></g>
<g id="r19c6"><ellipse class="k W" cx="344.4" cy="998" rx="17" ry="20.5"/><text class="a ab" x="344.4" y="1002">→</text></g>
<g id="r19c7"><ellipse class="k W" cx="396.5" cy="998" rx="17" ry="20.5"/><text class="a ab" x="396.5" y="1002">→</text></g>
<g id="r19c8"><ellipse class="k W" cx="448.6" cy="998" rx="17" ry="20.5"/><text class="a ab" x="448.6" y="1002">→</text></g>
<g id="r19c9"><ellipse class="k W" cx="500.6" cy="998" rx="17" ry="20.5"/><text class="a ab" x="500.6" y="1002">→</text></g>
<g id="r19c10"><ellipse class="k W" cx="552.7" cy="998" rx="17" ry="20.5"/><text class="a ab" x="552.7" y="1002">→</text></g>
<g id="r19c11"><ellipse class="k W" cx="604.8" cy="998" rx="17" ry="20.5"/><text class="a ab" x="604.8" y="1002">→</text></g>
<g id="r19c12"><ellipse class="k W" cx="656.9" cy="998" rx="17" ry="20.5"/><text class="a ab" x="656.9" y="1002">→</text></g>
<g id="r19c13"><ellipse class="k W" cx="708.9" cy="998" rx="17" ry="20.5"/><text class="a ab" x="708.9" y="1002">→</text></g>
<g id="r19c14"><ellipse class="k W" cx="761" cy="998" rx="17" ry="20.5"/><text class="a ab" x="761" y="1002">→</text></g>
</g>
<text id="watermark" class="wm" x="421.5" y="561">BRACELETBOOK.COM</text>
</svg>
